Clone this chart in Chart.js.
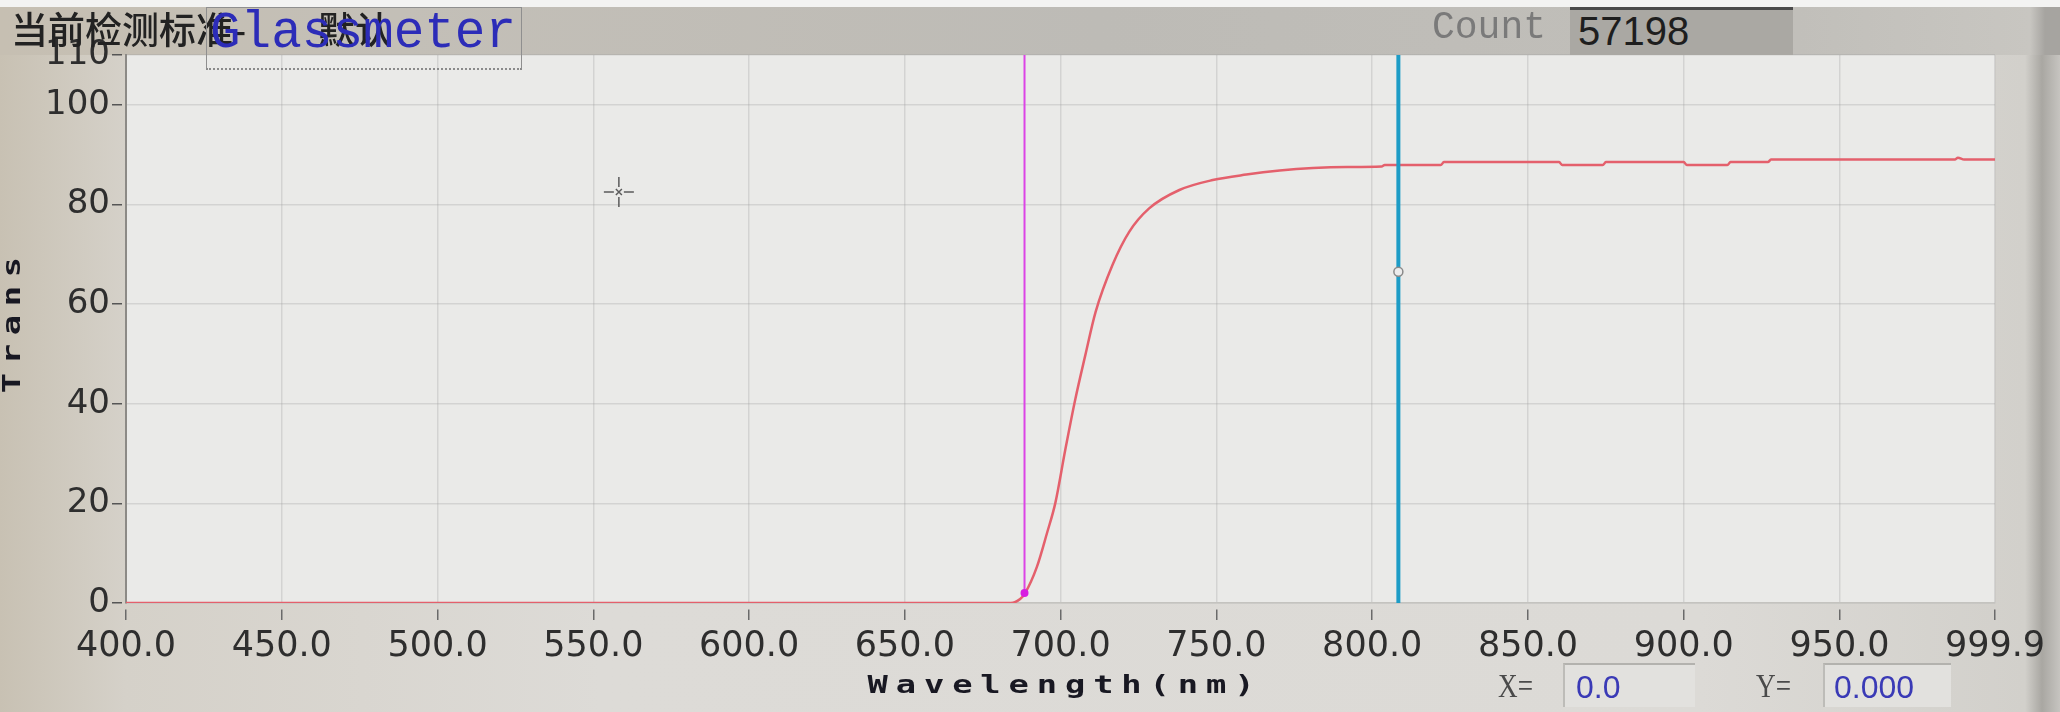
<!DOCTYPE html>
<html>
<head>
<meta charset="utf-8">
<script src="https://cdn.jsdelivr.net/npm/chart.js@4.4.0/dist/chart.umd.min.js"></script>
<style>
  body { margin:0; width:2060px; height:712px; overflow:hidden; position:relative;
    background: linear-gradient(90deg, #c8c1b3 0px, #d5d1c9 125px, #dddbd7 600px, #dcdad6 1700px, #d2d0cb 2025px, #a9a7a2 2042px, #c6c4c0 2060px); }
  #topwhite { position:absolute; left:0; top:0; width:2060px; height:7px; background:#f3f3f2; }
  #band { position:absolute; left:0; top:7px; width:2060px; height:48px;
    background: linear-gradient(90deg, #c6bfb2 0px, #c3bfb7 400px, #bdbbb6 1100px, #c1bfba 1800px, #c8c6c1 2030px, #a6a4a0 2045px); }
  #chart { position:absolute; left:0; top:0; z-index:1; }
  .t { position:absolute; z-index:2; white-space:nowrap; }
  #std { left:11px; top:7px; font:500 37px "Noto Sans CJK SC"; color:#222; line-height:42px; }
  #std2 { left:318px; top:7px; font:500 37px "Noto Sans CJK SC"; color:#222; line-height:42px; }
  #gbox { position:absolute; z-index:2; left:206px; top:7px; width:314px; height:60px;
    border:1px solid #8f8f8f; border-bottom:2px dotted #8a8a8a; }
  #glass { left:210px; top:8px; font:51px "Liberation Mono"; color:#2c2cb8; line-height:51px; }
  #count { left:1432px; top:8px; font:38px "Liberation Mono"; color:#7a7a7a; line-height:40px; }
  #cbox { position:absolute; z-index:2; left:1570px; top:7px; width:223px; height:45px;
    background:#aaa8a3; border-top:3px solid #4a4a4a; }
  #cval { left:1578px; top:10px; font:40px "Liberation Sans Narrow", "Liberation Sans"; color:#1e1e1e; line-height:42px; }
  .lab { font:34px "Liberation Serif"; color:#4a4a4a; line-height:40px; top:666px; transform:scaleX(0.8); transform-origin:left; }
  .vbox { position:absolute; z-index:2; top:663px; height:42px; background:#e2e1de;
    border-top:2px solid #b3b2ae; border-left:2px solid #bdbcb8; }
  .val { font:32px "Liberation Sans Narrow", "Liberation Sans"; color:#3a3ab6; line-height:40px; top:667px; }
</style>
</head>
<body>
<div id="topwhite"></div>
<div id="band"></div>
<canvas id="chart" width="2060" height="712"></canvas>
<div class="t" id="std">当前检测标准-</div>
<div class="t" id="std2">默认</div>
<div id="gbox"></div>
<div class="t" id="glass">Glassmeter</div>
<div class="t" id="count">Count</div>
<div id="cbox"></div>
<div class="t" id="cval">57198</div>
<div class="t lab" style="left:1498px">X=</div>
<div class="vbox" style="left:1563px;width:130px"></div>
<div class="t val" style="left:1576px">0.0</div>
<div class="t lab" style="left:1756px">Y=</div>
<div class="vbox" style="left:1823px;width:126px"></div>
<div class="t val" style="left:1834px">0.000</div>
<script>
// spectrum
const wavelengths = [400, 684, 687, 688.6, 692.4, 695.6, 698.3, 701.5, 704.7, 707.9, 711.2, 716.6, 722, 728.4, 738.1, 748.8, 759.6, 770.3, 781, 792, 803, 804, 822, 823, 860, 861, 874, 875, 900, 901, 914, 915, 927, 928, 987, 988, 990, 999.9];
const trans = [0, 0, 0.8, 2.0, 7.3, 14.0, 20.1, 30.8, 40.9, 49.7, 58.4, 67.8, 74.5, 79.2, 82.9, 84.9, 86.0, 86.8, 87.3, 87.5, 87.6, 87.9, 87.9, 88.5, 88.5, 87.9, 87.9, 88.5, 88.5, 87.9, 87.9, 88.5, 88.5, 89.0, 89.0, 89.4, 89.0, 89.0];
const xTicks = [400, 450, 500, 550, 600, 650, 700, 750, 800, 850, 900, 950, 999.9];
const yTicks = [0, 20, 40, 60, 80, 100, 110];
const cursorA = 688.4;   // magenta marker
const cursorAY = 2.0;
const cursorB = 808.4;   // blue marker
const cursorBY = 66.5;
const crossX = 558.2, crossY = 82.5;

const ctx = document.getElementById('chart').getContext('2d');

let pts = [];
for (let i = 0; i < wavelengths.length; i++) {
    pts.push({x: wavelengths[i], y: trans[i]});
}

const plotBg = {
    id: 'plotBg',
    beforeDraw(chart) {
        const a = chart.chartArea, c = chart.ctx;
        c.save();
        c.fillStyle = '#eaeae8';
        c.fillRect(a.left, a.top, a.right - a.left, a.bottom - a.top);
        c.restore();
    }
};

function spaced(c, text, cx, cy, adv, rot) {
    c.save();
    c.translate(cx, cy);
    c.rotate(rot);
    c.font = 'bold 25px "DejaVu Sans Mono"';
    c.fillStyle = '#181822';
    c.textAlign = 'center';
    c.textBaseline = 'middle';
    const start = -adv * text.length / 2 + adv / 2;
    for (let i = 0; i < text.length; i++) {
        c.save();
        c.translate(start + i * adv, 0);
        c.scale(1.35, 1);
        c.fillText(text[i], 0, 0);
        c.restore();
    }
    c.restore();
}

const extras = {
    id: 'extras',
    afterDraw(chart) {
        const c = chart.ctx;
        const x = chart.scales.x, y = chart.scales.y;
        const px = x.getPixelForValue(crossX), py = y.getPixelForValue(crossY);
        c.save();
        c.strokeStyle = '#5b5b5b';
        c.lineWidth = 1.5;
        c.beginPath();
        c.moveTo(px, py - 15); c.lineTo(px, py - 5);
        c.moveTo(px, py + 5); c.lineTo(px, py + 15);
        c.moveTo(px - 15, py); c.lineTo(px - 5, py);
        c.moveTo(px + 5, py); c.lineTo(px + 15, py);
        c.moveTo(px - 3, py - 3); c.lineTo(px + 3, py + 3);
        c.moveTo(px + 3, py - 3); c.lineTo(px - 3, py + 3);
        c.stroke();
        c.restore();
        spaced(c, 'Wavelength(nm)', 1061, 686, 28.2, 0);
        spaced(c, 'Trans', 13, 325, 29, -Math.PI / 2);
    }
};

new Chart(ctx, {
    type: 'line',
    data: {
        datasets: [{
            data: [{x: cursorB, y: cursorBY}],
            showLine: false,
            pointRadius: 4.5,
            pointBackgroundColor: '#ececec',
            pointBorderColor: '#8a8a8a',
            pointBorderWidth: 1.5,
            order: 0
        }, {
            data: [{x: cursorA, y: 110}, {x: cursorA, y: cursorAY}],
            borderColor: '#dc44e6',
            borderWidth: 2,
            pointRadius: [0, 4],
            pointBackgroundColor: '#d81ee0',
            pointBorderWidth: 0,
            order: 1
        }, {
            data: [{x: cursorB, y: 110}, {x: cursorB, y: 0}],
            borderColor: '#1d9cc6',
            borderWidth: 4,
            pointRadius: 0,
            order: 2
        }, {
            data: pts,
            borderColor: '#e4606c',
            borderWidth: 2.5,
            pointRadius: 0,
            cubicInterpolationMode: 'monotone',
            order: 3
        }]
    },
    options: {
        responsive: false,
        animation: false,
        devicePixelRatio: 1,
        layout: { padding: { top: 55, right: 65, left: 0, bottom: 0 } },
        plugins: { legend: { display: false }, tooltip: { enabled: false } },
        scales: {
            x: {
                type: 'linear',
                min: 400,
                max: 999.9,
                afterBuildTicks: s => { s.ticks = xTicks.map(v => ({value: v})); },
                afterFit: s => { s.height = 109; },
                ticks: {
                    autoSkip: false,
                    maxRotation: 0,
                    padding: 6,
                    color: '#2e2e2e',
                    font: { family: 'DejaVu Sans', size: 35 },
                    callback: v => v.toFixed(1)
                },
                grid: {
                    color: 'rgba(160,160,160,0.3)',
                    lineWidth: 1.5,
                    tickLength: 17,
                    tickColor: '#6a6a6a',
                    tickWidth: 1.5,
                    tickBorderDash: [0, 6, 11, 100]
                },
                border: { color: '#c4c3bf', width: 1.5 }
            },
            y: {
                min: 0,
                max: 110,
                afterBuildTicks: s => { s.ticks = yTicks.map(v => ({value: v})); },
                afterFit: s => { s.width = 126; },
                ticks: {
                    autoSkip: false,
                    padding: 2,
                    color: '#2e2e2e',
                    font: { family: 'DejaVu Sans', size: 34 },
                    callback: v => String(v)
                },
                grid: {
                    color: 'rgba(160,160,160,0.3)',
                    lineWidth: 1.5,
                    tickLength: 14,
                    tickColor: '#555555',
                    tickWidth: 1.5,
                    tickBorderDash: [10, 4]
                },
                border: { color: '#8c8a86', width: 2 }
            }
        }
    },
    plugins: [plotBg, extras]
});
</script>
</body>
</html>
